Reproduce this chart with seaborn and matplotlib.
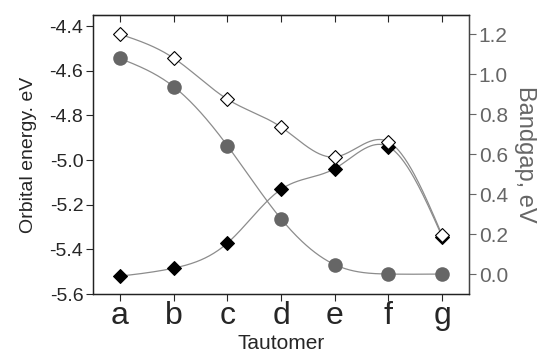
import numpy as np
import pandas as pd
import matplotlib
matplotlib.use("Agg")
import matplotlib.pyplot as plt
import seaborn as sns

tautomers = ["a", "b", "c", "d", "e", "f", "g"]
lumo = [-4.436, -4.543, -4.727, -4.852, -4.986, -4.918, -5.337]
homo = [-5.520, -5.484, -5.372, -5.131, -5.038, -4.940, -5.343]
bandgap = [1.078, 0.937, 0.642, 0.276, 0.047, 0.0, 0.0]


def smooth(xs, ys, n=300):
    xs = np.asarray(xs, float)
    ys = np.asarray(ys, float)
    k = len(xs)
    h = np.diff(xs)
    A = np.zeros((k, k))
    r = np.zeros(k)
    A[0, 0] = A[-1, -1] = 1
    for i in range(1, k - 1):
        A[i, i - 1] = h[i - 1]
        A[i, i] = 2 * (h[i - 1] + h[i])
        A[i, i + 1] = h[i]
        r[i] = 6 * ((ys[i + 1] - ys[i]) / h[i] - (ys[i] - ys[i - 1]) / h[i - 1])
    M = np.linalg.solve(A, r)
    xx = np.linspace(xs[0], xs[-1], n)
    idx = np.clip(np.searchsorted(xs, xx) - 1, 0, k - 2)
    x0, x1 = xs[idx], xs[idx + 1]
    hh = x1 - x0
    t0, t1 = x1 - xx, xx - x0
    yy = (M[idx] * t0**3 + M[idx + 1] * t1**3) / (6 * hh) \
        + (ys[idx] / hh - M[idx] * hh / 6) * t0 \
        + (ys[idx + 1] / hh - M[idx + 1] * hh / 6) * t1
    return xx, yy


sns.set_style("ticks")
plt.rcParams["font.family"] = ["Liberation Sans", "DejaVu Sans"]

pos = np.arange(len(tautomers))
df = pd.DataFrame({"pos": pos, "lumo": lumo, "homo": homo, "gap": bandgap})

fig = plt.figure(figsize=(5.41, 3.53), dpi=100)
ax = fig.add_axes([0.172, 0.167, 0.695, 0.7905])
ax2 = ax.twinx()

gray = "#666666"
line_c = "#8c8c8c"

# bandgap on right axis
xx, yy = smooth(pos, bandgap)
ax2.plot(xx, yy, color=line_c, lw=0.9, zorder=1)
sns.scatterplot(data=df, x="pos", y="gap", ax=ax2, marker="o", s=110,
                color=gray, edgecolor=gray, linewidth=0, zorder=3, legend=False)

# orbital energies on left axis
for vals in (homo, lumo):
    xx, yy = smooth(pos, vals)
    ax.plot(xx, yy, color=line_c, lw=0.9, zorder=1)
sns.scatterplot(data=df, x="pos", y="homo", ax=ax, marker="D", s=50,
                color="black", edgecolor="black", linewidth=0.8, zorder=3, legend=False)
sns.scatterplot(data=df, x="pos", y="lumo", ax=ax, marker="D", s=50,
                color="white", edgecolor="black", linewidth=0.8, zorder=4, legend=False)

ax.set_xlim(-0.5, 6.5)
ax.set_ylim(-5.6, -4.35)
ticks1 = np.arange(-5.6, -4.39, 0.2)
ax.set_yticks(ticks1)
ax.set_yticklabels([f"{v:.1f}" for v in ticks1], fontsize=14)
ax.set_xticks(pos)
ax.set_xticklabels(tautomers, fontsize=23)
ax.set_xlabel("Tautomer", fontsize=15, labelpad=2)
ax.set_ylabel("Orbital energy. eV", fontsize=14, labelpad=9)
ax.tick_params(axis="y", direction="out", length=5, width=0.8, pad=2)
ax.tick_params(axis="x", direction="out", length=5, width=0.8, pad=0)

ax2.set_ylim(-0.1, 1.295)
ticks2 = np.arange(0, 1.21, 0.2)
ax2.set_yticks(ticks2)
ax2.set_yticklabels([f"{v:.1f}" for v in ticks2], fontsize=15, color=gray)
ax2.set_ylabel("Bandgap, eV", fontsize=17, color=gray, rotation=270, labelpad=20)
ax2.tick_params(axis="y", direction="out", length=5, width=0.8, colors=gray, pad=2)

for a in (ax, ax2):
    for s in a.spines.values():
        s.set_visible(True)
        s.set_linewidth(0.9)
        s.set_color("#222222")
ax2.spines["right"].set_color("#444444")

# top ticks pointing inward
secx = ax.secondary_xaxis("top")
secx.set_xticks(pos)
secx.set_xticklabels([])
secx.tick_params(direction="in", length=5, width=0.8)
ax.tick_params(axis="x", top=False)
ax2.tick_params(axis="x", top=False)

fig.savefig("out.png", dpi=100)
